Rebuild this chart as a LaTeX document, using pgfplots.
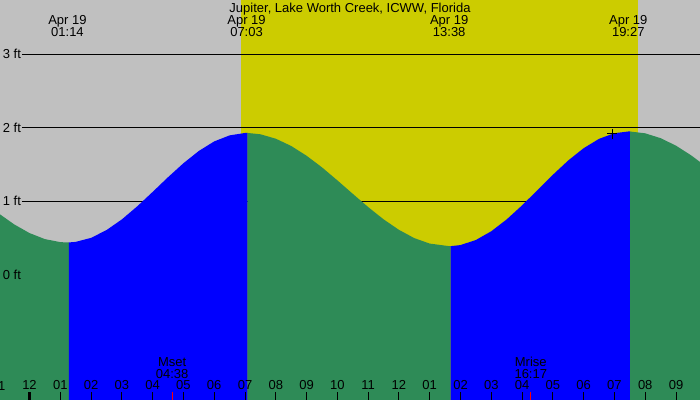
\documentclass[border=0pt]{standalone}
\usepackage{fontspec}
\setmainfont{Liberation Sans}
\usepackage{pgfplots}
\pgfplotsset{compat=1.18}
\definecolor{bggray}{RGB}{192,192,192}
\definecolor{sunyellow}{RGB}{204,204,0}
\definecolor{tidegreen}{RGB}{46,139,87}
\definecolor{tideblue}{RGB}{0,0,255}
\begin{document}
\fontsize{13bp}{15bp}\selectfont
\begin{tikzpicture}
\begin{axis}[
 scale only axis, width=700bp, height=400bp,
 xmin=-0.958, xmax=21.779, ymin=-1.703, ymax=3.739,
 axis line style={draw=none},
 ytick=\empty,
 xtick={0,...,21},
 xticklabels={12,01,02,03,04,05,06,07,08,09,10,11,12,01,02,03,04,05,06,07,08,09},
 xtick pos=left, tick align=inside, major tick length=8bp,
 x tick style={black, line width=1bp},
 xticklabel style={anchor=base, yshift=10bp, inner sep=0pt},
 axis on top=true,
 clip=true,
]
% background
\addplot[draw=none, fill=bggray] coordinates {(-2,-3) (-2,5) (23,5) (23,-3)};
\addplot[draw=none, fill=sunyellow] coordinates {(6.870,-3) (6.870,5) (19.756,5) (19.756,-3)};
% reference lines
\addplot[black, line width=1bp] coordinates {(-0.244,1) (23,1)};
\addplot[black, line width=1bp] coordinates {(-0.244,2) (23,2)};
\addplot[black, line width=1bp] coordinates {(-0.244,3) (23,3)};
% tide areas
\addplot[draw=none, fill=tidegreen] coordinates {(-1,-3) (-1,0.835) (-0.5,0.687) (0,0.568) (0.5,0.486) (1,0.445) (1.233,0.44) (1.283,0.441) (1.283,-3)};
\addplot[draw=none, fill=tideblue] coordinates {(1.283,-3) (1.283,0.441) (1.5,0.448) (2,0.503) (2.5,0.608) (3,0.754) (3.5,0.932) (4,1.128) (4.5,1.328) (5,1.518) (5.5,1.685) (6,1.815) (6.5,1.897) (7,1.930) (7.05,1.930) (7.088,1.930) (7.088,-3)};
\addplot[draw=none, fill=tidegreen] coordinates {(7.088,-3) (7.088,1.930) (7.5,1.912) (8,1.852) (8.5,1.753) (9,1.620) (9.5,1.462) (10,1.285) (10.5,1.102) (11,0.922) (11.5,0.755) (12,0.612) (12.5,0.499) (13,0.425) (13.633,0.39) (13.682,0.390) (13.682,-3)};
\addplot[draw=none, fill=tideblue] coordinates {(13.682,-3) (13.682,0.390) (14,0.405) (14.5,0.474) (15,0.593) (15.5,0.754) (16,0.945) (16.5,1.153) (17,1.361) (17.5,1.556) (18,1.723) (18.5,1.850) (19,1.927) (19.45,1.95) (19.506,1.95) (19.506,-3)};
\addplot[draw=none, fill=tidegreen] coordinates {(19.506,-3) (19.506,1.95) (20,1.925) (20.5,1.859) (21,1.757) (21.5,1.623) (22,1.465) (22,-3)};
% current time marker
\addplot[only marks, mark=+, mark size=5bp, black, mark options={line width=1bp}] coordinates {(18.93,1.919)};
% midnight and moon ticks
\addplot[black, line width=3bp] coordinates {(0,-1.703) (0,-1.594)};
\addplot[red, line width=1bp] coordinates {(4.633,-1.703) (4.633,-1.594)};
\addplot[red, line width=1bp] coordinates {(16.283,-1.703) (16.283,-1.594)};
% labels
\node[anchor=east, inner sep=0pt] at (axis cs:-0.27,3) {3 ft};
\node[anchor=east, inner sep=0pt] at (axis cs:-0.27,2) {2 ft};
\node[anchor=east, inner sep=0pt] at (axis cs:-0.27,1) {1 ft};
\node[anchor=east, inner sep=0pt] at (axis cs:-0.27,0) {0 ft};
\node[anchor=base, inner sep=0pt] at (axis cs:10.41,3.5755) {Jupiter, Lake Worth Creek, ICWW, Florida};
\node[anchor=base, inner sep=0pt] at (axis cs:1.233,3.412) {Apr 19};
\node[anchor=base, inner sep=0pt] at (axis cs:1.233,3.249) {01:14};
\node[anchor=base, inner sep=0pt] at (axis cs:7.05,3.412) {Apr 19};
\node[anchor=base, inner sep=0pt] at (axis cs:7.05,3.249) {07:03};
\node[anchor=base, inner sep=0pt] at (axis cs:13.633,3.412) {Apr 19};
\node[anchor=base, inner sep=0pt] at (axis cs:13.633,3.249) {13:38};
\node[anchor=base, inner sep=0pt] at (axis cs:19.45,3.412) {Apr 19};
\node[anchor=base, inner sep=0pt] at (axis cs:19.45,3.249) {19:27};
\node[anchor=base, inner sep=0pt] at (axis cs:4.633,-1.2476) {Mset};
\node[anchor=base, inner sep=0pt] at (axis cs:4.633,-1.404) {04:38};
\node[anchor=base, inner sep=0pt] at (axis cs:16.283,-1.2476) {Mrise};
\node[anchor=base, inner sep=0pt] at (axis cs:16.283,-1.404) {16:17};
\node[anchor=base, inner sep=0pt] at (axis cs:-1,-1.567) {11};
\end{axis}
\pgfresetboundingbox
\useasboundingbox (current axis.south west) rectangle (current axis.north east);
\end{tikzpicture}
\end{document}
